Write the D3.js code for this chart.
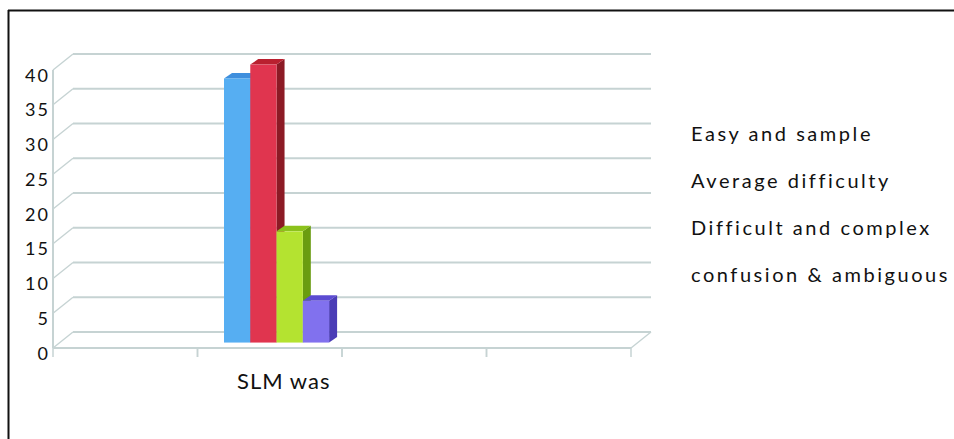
<!DOCTYPE html>
<html><head><meta charset="utf-8">
<script src="https://cdn.jsdelivr.net/npm/d3@7"></script>
<style>body{margin:0;background:#fff}svg{display:block}</style>
</head><body>
<svg id="chart" width="954" height="439"></svg>
<script>
// ---- data ----
const categories = ["", "SLM was", "", ""];
const dataCategory = "SLM was";
const seriesNames = ["Easy and sample", "Average difficulty", "Difficult and complex", "confusion & ambiguous"];
const seriesValues = [38, 40, 16, 6];
const yTicks = [0, 5, 10, 15, 20, 25, 30, 35, 40];
const frontColors = ["#56aef2", "#e0354f", "#b4e330", "#8171ee"];
const sideColors  = ["#2f7fcf", "#8c1a25", "#6a9c10", "#4a3cb6"];
const topColors   = ["#3f8fdd", "#b9202f", "#8cc21c", "#5c4cd2"];

const svg = d3.select("#chart");
const font = "Lato, 'Open Sans', sans-serif";

// frame
svg.append("line").attr("x1", 8.5).attr("y1", 10).attr("x2", 8.5).attr("y2", 439).attr("stroke", "#111").attr("stroke-width", 2);
svg.append("line").attr("x1", 8).attr("y1", 10.5).attr("x2", 954).attr("y2", 10.5).attr("stroke", "#111").attr("stroke-width", 2);

// scales (front plane)
const x = d3.scaleBand().domain(categories.map((c, i) => i)).range([53, 631]);
const y = d3.scaleLinear().domain([0, 40]).range([348, 70]);
const depth = {dx: 20, dy: -16};
const gridColor = "#c6d3d3";

const g = svg.append("g");
yTicks.forEach(t => {
  const fy = y(t), by = y(t) + depth.dy;
  g.append("line").attr("x1", 53 + depth.dx).attr("y1", by).attr("x2", 631 + depth.dx).attr("y2", by)
    .attr("stroke", gridColor).attr("stroke-width", 2);
  g.append("line").attr("x1", 53).attr("y1", fy).attr("x2", 53 + depth.dx).attr("y2", by)
    .attr("stroke", gridColor).attr("stroke-width", 1.5);
});
g.append("line").attr("x1", 53).attr("y1", y(40)).attr("x2", 53).attr("y2", y(0)).attr("stroke", gridColor).attr("stroke-width", 2);
g.append("line").attr("x1", 53).attr("y1", y(0)).attr("x2", 631).attr("y2", y(0)).attr("stroke", gridColor).attr("stroke-width", 2);
g.append("line").attr("x1", 631).attr("y1", y(0)).attr("x2", 631 + depth.dx).attr("y2", y(0) + depth.dy).attr("stroke", gridColor).attr("stroke-width", 1.5);
categories.forEach((c, i) => {
  [x(i), x(i) + x.bandwidth()].forEach(px => {
    g.append("line").attr("x1", px).attr("y1", y(0)).attr("x2", px).attr("y2", y(0) + 9).attr("stroke", gridColor).attr("stroke-width", 1.5);
  });
});

// y labels
yTicks.forEach(t => {
  svg.append("text").attr("x", 50).attr("y", y(t) + 4.5).attr("text-anchor", "end").attr("dominant-baseline", "central")
    .attr("font-family", font).attr("font-size", 18).attr("letter-spacing", 2).attr("fill", "#111").text(t);
});

// category label
categories.forEach((c, i) => {
  if (!c) return;
  svg.append("text").attr("x", x(i) + x.bandwidth() / 2 + 14).attr("y", 389).attr("text-anchor", "middle")
    .attr("font-family", font).attr("font-size", 22).attr("letter-spacing", 1).attr("fill", "#111").text(c);
});

// bars
const ci = categories.indexOf(dataCategory);
const inner = d3.scaleBand().domain(seriesNames).range([x(ci), x(ci) + x.bandwidth()]).paddingOuter(0.75).paddingInner(0);
const barDepthF = 0.34;
const ox = depth.dx * barDepthF, oy = depth.dy * barDepthF;
const bd = {dx: 8, dy: -5.5};
const ys = v => y(v) + oy;
seriesNames.forEach((s, k) => {
  const v = seriesValues[k];
  const x0 = inner(s) + ox, x1 = x0 + inner.bandwidth();
  const yb = ys(0), yt = ys(v);
  const bg = svg.append("g");
  bg.append("path").attr("d", `M${x1},${yb}L${x1 + bd.dx},${yb + bd.dy}L${x1 + bd.dx},${yt + bd.dy}L${x1},${yt}Z`).attr("fill", sideColors[k]);
  bg.append("path").attr("d", `M${x0},${yt}L${x0 + bd.dx},${yt + bd.dy}L${x1 + bd.dx},${yt + bd.dy}L${x1},${yt}Z`).attr("fill", topColors[k]);
  bg.append("rect").attr("x", x0).attr("y", yt).attr("width", x1 - x0).attr("height", yb - yt).attr("fill", frontColors[k]);
});

// legend (text only)
const legendY = [141, 188, 235, 282];
seriesNames.forEach((s, k) => {
  svg.append("text").attr("x", 691).attr("y", legendY[k]).attr("font-family", font).attr("font-size", 20)
    .attr("letter-spacing", 2.55).attr("fill", "#111").text(s);
});
</script>
</body></html>
